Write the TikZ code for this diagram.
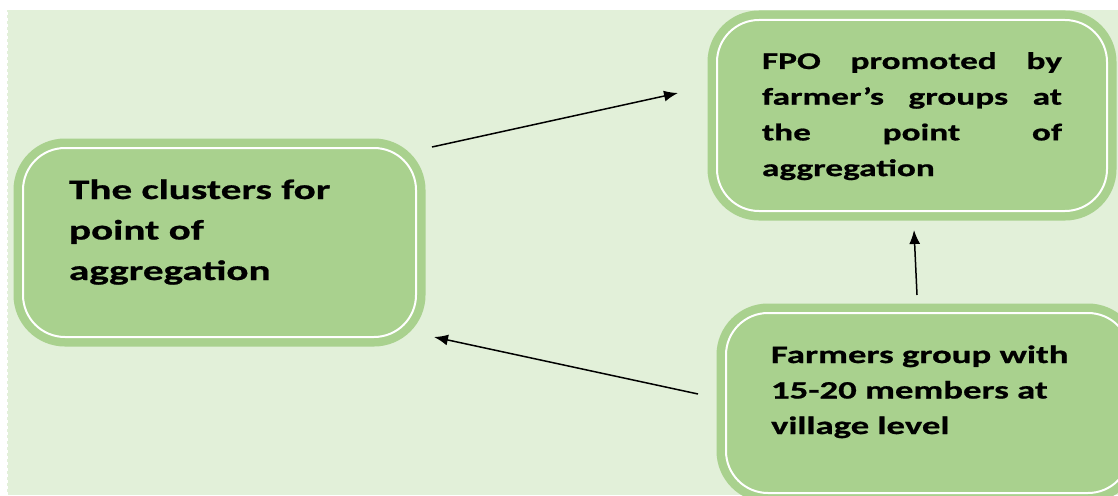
\documentclass[tikz,border=0pt]{standalone}
\usepackage{fontspec}
\newfontfamily\boxfont[FakeStretch=1.47,BoldFeatures={FakeBold=0.8}]{Carlito}
\usetikzlibrary{arrows.meta,calc}
\definecolor{boxgreen}{HTML}{A9D18E}
\definecolor{bggreen}{HTML}{E2F0D9}

\begin{document}
\begin{tikzpicture}[x=1pt,y=-1pt,>={Latex[length=14pt,width=11pt]},
	greenbox/.style={anchor=north west,fill=boxgreen,draw=white,line width=2pt,rounded corners=42pt,
		preaction={draw=boxgreen,line width=19pt},inner ysep=0pt,align=left}]
		\useasboundingbox (0,0) rectangle (1118,495);
		\clip (0,0) rectangle (1118,495);
		\fill[white] (0,0) rectangle (1118,495);
		\fill[bggreen] (7,10) rectangle (1118,495);
		\draw[white,dashed,line width=1pt] (7,495) -- (7,10) -- (1118,10);
		\node[greenbox,inner xsep=46pt,text width=301pt,text height=51pt,text depth=138pt,
			font=\boxfont\bfseries\fontsize{28}{40.5}\selectfont] (cluster) at (22,147)
			{The clusters for\\ point of\\ aggregation};
		\node[greenbox,inner xsep=45pt,text width=300pt,text height=49pt,text depth=142pt,
			font=\boxfont\bfseries\fontsize{24}{35.7}\selectfont] (fpo) at (716,19)
			{FPO\hfill promoted\hfill by\\ farmer’s\hfill groups\hfill at\\ the\hfill point\hfill of\\ aggregation};
		\node[greenbox,inner xsep=45pt,text width=314pt,text height=50pt,text depth=130pt,
			font=\boxfont\bfseries\fontsize{25}{35.5}\selectfont] (fgroup) at (725,312)
			{Farmers group with\\ 15-20 members at\\ village level};
		\path[->,line width=1.5pt]
			($(cluster.north east)+(15,0)$) edge ($(fpo.west)+(-38,-22.5)$)
			($(fgroup.west)+(-27,-9)$) edge ($(cluster.south east)+(17,-1)$)
			($(fgroup.north)+(-11,-17)$) edge ($(fpo.south)+(2,18)$);
\end{tikzpicture}
\end{document}
